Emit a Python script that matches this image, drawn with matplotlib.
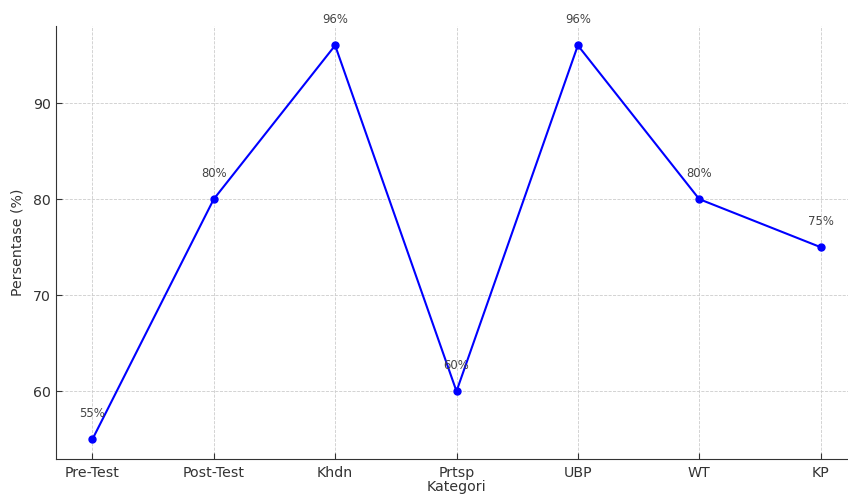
import matplotlib.pyplot as plt

categories = ['Pre-Test', 'Post-Test', 'Khdn', 'Prtsp', 'UBP', 'WT', 'KP']
values = [55, 80, 96, 60, 96, 80, 75]
labels = ['55%', '80%', '96%', '60%', '96%', '80%', '75%']

fig = plt.figure(figsize=(8.48, 4.95), dpi=100)
# the reference is cropped on the right, so the axes run past the figure edge
ax = fig.add_axes([56 / 848, 36 / 495, 801 / 848, 433.3 / 495])

x = list(range(len(categories)))
ax.plot(x, values, color='#0000ff', marker='o', markersize=5, linewidth=1.5)

for xi, v, lab in zip(x, values, labels):
    ax.annotate(lab, (xi, v), textcoords='offset points', xytext=(0, 18.5),
                ha='center', va='center', fontsize=8.4, color='#444444')

ax.set_xticks(x)
ax.set_xticklabels(categories)
ax.set_yticks([60, 70, 80, 90])
ax.tick_params(direction='in', labelsize=10.2, colors='#333333', length=4)
ax.tick_params(axis='x', pad=5)
ax.grid(True, linestyle='--', color='#cccccc', linewidth=0.6)
ax.spines['top'].set_visible(False)
ax.spines['right'].set_visible(False)
ax.spines['left'].set_color('#333333')
ax.spines['bottom'].set_color('#333333')

ax.set_xlabel('Kategori', fontsize=10.2, color='#333333', labelpad=0)
ax.set_ylabel('Persentase (%)', fontsize=10.2, color='#333333', labelpad=6)

fig.savefig('out.png', dpi=100)
